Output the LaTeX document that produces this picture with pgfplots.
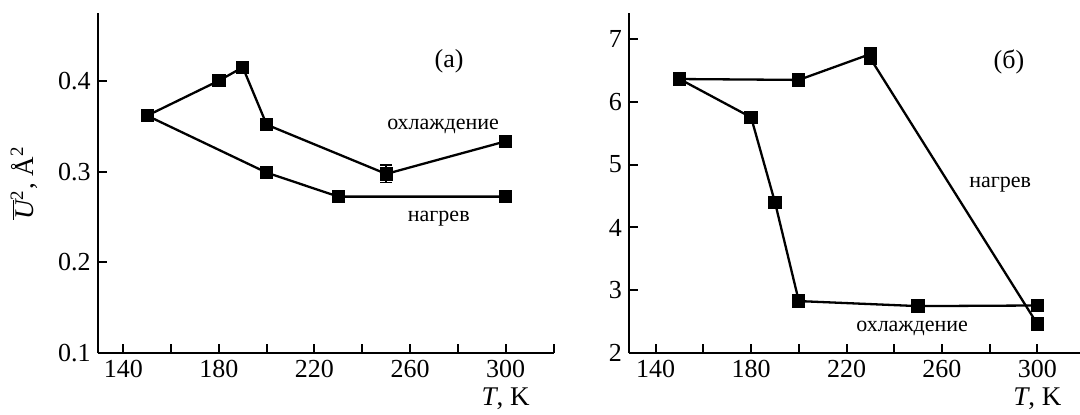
\documentclass[border=0pt]{standalone}
\usepackage{fontspec}
\setmainfont{Liberation Serif}
\usepackage{pgfplots}
\pgfplotsset{compat=1.18}

\pgfplotsset{
  panel/.style={
    scale only axis,
    axis x line*=bottom, axis y line*=left,
    axis line style={black, line width=1pt},
    every tick/.style={black, line width=1pt},
    major tick length=4.7pt, minor tick length=4.7pt,
    tick align=inside,
    /pgf/number format/assume math mode=true,
    tick label style={font=\fontsize{13}{15}\selectfont},
    label style={font=\fontsize{13.5}{15}\selectfont},
    xtick={140,180,...,300}, minor xtick={160,200,...,320},
    clip=false,
    height=170.3pt,
  },
  series/.style={black, line width=1.15pt, mark=square*, mark size=2.75pt, mark options={solid}},
}
\tikzset{
  note/.style={font=\fontsize{11}{13}\selectfont, anchor=base},
  panelname/.style={font=\fontsize{13}{15}\selectfont, anchor=base},
}

\begin{document}
\begin{tikzpicture}
\path[use as bounding box] (0,0) rectangle (540pt,207pt);

% (а) mean square displacement
\begin{axis}[panel,
  at={(48.85pt,30.35pt)}, anchor=south west, width=228.15pt,
  xmin=129.3, xmax=320.2, ymin=0.1, ymax=0.4748,
  ytick={0.1,0.2,0.3,0.4},
  yticklabel style={/pgf/number format/.cd, fixed, fixed zerofill, precision=1},
  xlabel={\textit{T}, K},
  xlabel style={at={(axis description cs:0.8942,0)}, anchor=base, yshift=-25.9pt},
  ylabel={$\overline{\mbox{\itshape U}}$\textsuperscript{2}, Å\textsuperscript{2}},
  ylabel style={at={(axis description cs:-0.161,0.5)}, anchor=center},
]
% cooling
\addplot[series] coordinates {
  (150,0.3615) (180,0.400) (190,0.4147) (200,0.3516) (250,0.2974) (300,0.3333)
};
% heating
\addplot[series] coordinates {
  (150,0.3615) (200,0.2988) (230,0.2724) (300,0.2724)
};
% error bar at 250 K
\addplot[black, forget plot, only marks, mark=none,
  error bars/.cd, y dir=both, y explicit,
  error bar style={black, line width=0.8pt},
  error mark options={black, rotate=90, mark size=3pt, line width=0.8pt}]
  coordinates {(250,0.2974) +- (0,0.0096)};
\node[panelname] at (axis cs:276.3,0.414) {(а)};
\node[note] at (axis cs:273.8,0.3458) {охлаждение};
\node[note] at (axis cs:272,0.2446) {нагрев};
\end{axis}

% (б)
\begin{axis}[panel,
  at={(314.5pt,30.35pt)}, anchor=south west, width=225.5pt,
  xmin=128.8, xmax=317.9, ymin=2, ymax=7.413,
  ytick={2,3,4,5,6,7},
  xlabel={\textit{T}, K},
  xlabel style={at={(axis description cs:0.9053,0)}, anchor=base, yshift=-25.9pt},
]
% heating
\addplot[series] coordinates {
  (150,6.359) (200,6.345) (230,6.756) (230,6.687) (300,2.466)
};
% cooling
\addplot[series] coordinates {
  (150,6.359) (180,5.75) (190,4.40) (200,2.83) (250,2.75) (300,2.76)
};
\node[panelname] at (axis cs:288.1,6.534) {(б)};
\node[note] at (axis cs:284.4,4.642) {нагрев};
\node[note] at (axis cs:247.5,2.353) {охлаждение};
\end{axis}
\end{tikzpicture}
\end{document}
